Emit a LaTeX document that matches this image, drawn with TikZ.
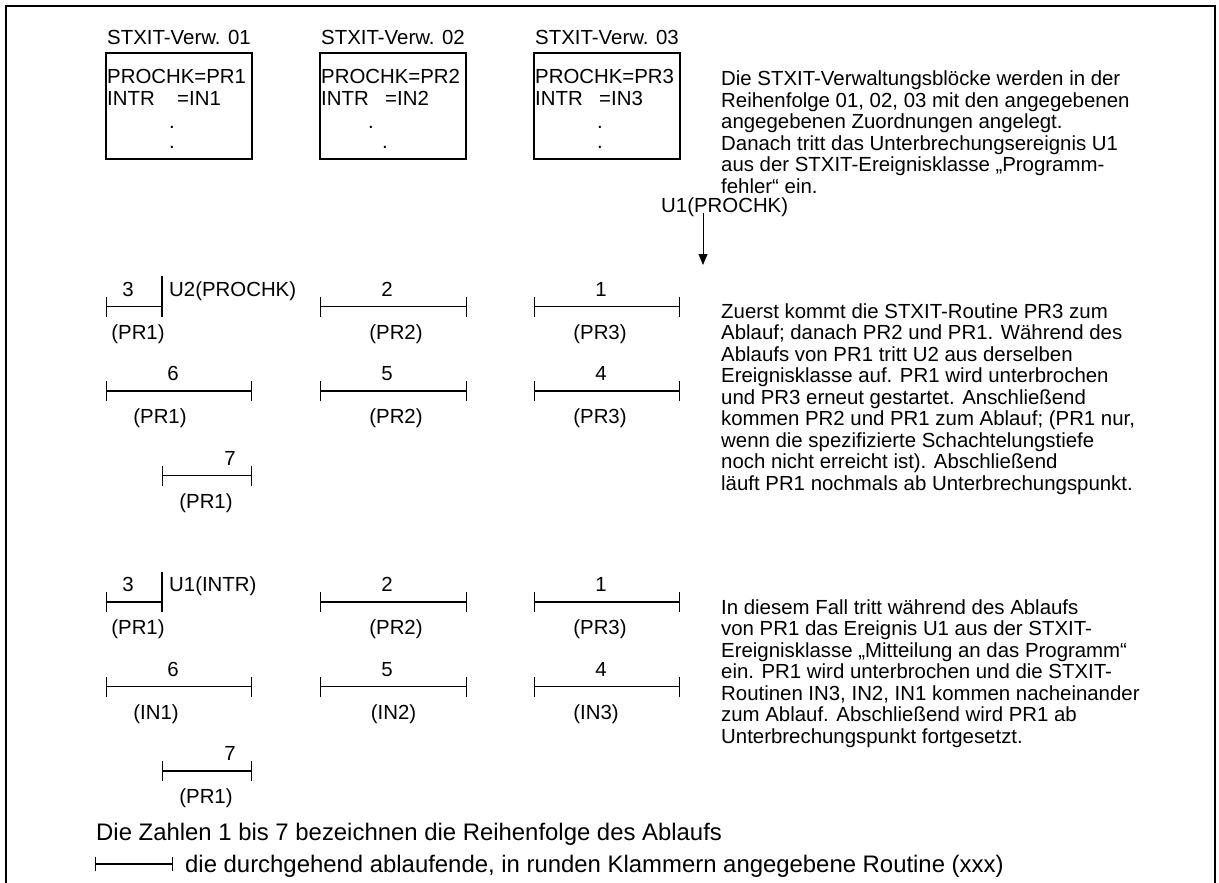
\documentclass[tikz,border=0pt]{standalone}
\usepackage{fontspec}
\setmainfont{Liberation Sans}
\usetikzlibrary{arrows.meta}
\begin{document}
\begin{tikzpicture}[x=1pt,y=-1pt,
  txt/.style={inner sep=0pt, font=\fontsize{20.4}{21.5}\selectfont},
  big/.style={inner sep=0pt, anchor=base west, font=\fontsize{23.9}{26}\selectfont},
  lb/.style={txt, anchor=base},
  lbw/.style={txt, anchor=base west},
  para/.style={txt, anchor=north west, align=left},
  vbox/.style={draw, line width=1.1pt, inner sep=0pt, minimum width=146pt, minimum height=106pt},
  run/.style={line width=1.1pt, {Bar[width=20pt]}-{Bar[width=20pt]}},
  legendrun/.style={line width=1.1pt, {Bar[width=14pt]}-{Bar[width=14pt]}},
  intmark/.style={line width=1.1pt},
  frameline/.style={line width=1.5pt},
  evarrow/.style={line width=1pt, -{Triangle[width=9pt,length=11pt]}}
]
\useasboundingbox (0,0) rectangle (1219,883);
% frame
\coordinate (f1) at (6,883); \coordinate (f2) at (6,6);
\coordinate (f3) at (1215,6); \coordinate (f4) at (1215,883);
\draw[frameline] (f1) -- (f2) -- (f3) -- (f4);

% titles and boxes
\node[lb] (t1) at (179,45) {STXIT-Verw. 01};
\node[lb] (t2) at (393,45) {STXIT-Verw. 02};
\node[lb] (t3) at (607,45) {STXIT-Verw. 03};
\node[vbox] (b1) at (179,106) {};
\node[vbox] (b2) at (393,106) {};
\node[vbox] (b3) at (607,106) {};
\node[lbw] (b1a) at (107,84) {PROCHK=PR1};
\node[lbw] (b1b) at (107,106) {INTR};
\node[lbw] (b1c) at (177,106) {=IN1};
\node[lb] (b1d) at (172,128.5) {.};
\node[lb] (b1e) at (172,148.5) {.};
\node[lbw] (b2a) at (321,84) {PROCHK=PR2};
\node[lbw] (b2b) at (321,106) {INTR};
\node[lbw] (b2c) at (385,106) {=IN2};
\node[lb] (b2d) at (371,128.5) {.};
\node[lb] (b2e) at (385,148.5) {.};
\node[lbw] (b3a) at (535,84) {PROCHK=PR3};
\node[lbw] (b3b) at (535,106) {INTR};
\node[lbw] (b3c) at (599,106) {=IN3};
\node[lb] (b3d) at (600,128.5) {.};
\node[lb] (b3e) at (600,148.5) {.};

% paragraph 1
\node[para] (p1) at (721,71) {Die STXIT-Verwaltungsblöcke werden in der\\
Reihenfolge 01, 02, 03 mit den angegebenen\\
angegebenen Zuordnungen angelegt.\\
Danach tritt das Unterbrechungsereignis U1\\
aus der STXIT-Ereignisklasse „Programm-\\
fehler“ ein.};

% event U1
\node[lbw] (u1) at (661,212) {U1(PROCHK)};
\coordinate (a1s) at (703,213);
\coordinate (a1e) at (703,265);
\draw[evarrow] (a1s) -- (a1e);

% ---------- section 1
% row 1
\coordinate (s1r1a) at (106,306.7); \coordinate (s1r1b) at (162,306.7);
\draw[run] (s1r1a) -- (s1r1b);
\coordinate (s1it) at (162,276); \coordinate (s1ib) at (162,316.7);
\draw[intmark] (s1it) -- (s1ib);
\node[lb] (s1n3) at (128,296) {3};
\node[lbw] (s1u2) at (169,296) {U2(PROCHK)};
\node[lb] (s1p3) at (138,339) {(PR1)};
\coordinate (s1r2a) at (320,306.7); \coordinate (s1r2b) at (467,306.7);
\draw[run] (s1r2a) -- (s1r2b);
\node[lb] (s1n2) at (387,296) {2};
\node[lb] (s1p2) at (396,339) {(PR2)};
\coordinate (s1r3a) at (534,306.7); \coordinate (s1r3b) at (680,306.7);
\draw[run] (s1r3a) -- (s1r3b);
\node[lb] (s1n1) at (601,296) {1};
\node[lb] (s1p1) at (600,339) {(PR3)};
% row 2
\coordinate (s1r4a) at (106,391); \coordinate (s1r4b) at (252,391);
\draw[run] (s1r4a) -- (s1r4b);
\node[lb] (s1n6) at (173,380.5) {6};
\node[lb] (s1p6) at (160,423.5) {(PR1)};
\coordinate (s1r5a) at (320,391); \coordinate (s1r5b) at (467,391);
\draw[run] (s1r5a) -- (s1r5b);
\node[lb] (s1n5) at (387,380.5) {5};
\node[lb] (s1p5) at (396,423.5) {(PR2)};
\coordinate (s1r6a) at (534,391); \coordinate (s1r6b) at (680,391);
\draw[run] (s1r6a) -- (s1r6b);
\node[lb] (s1n4) at (601,380.5) {4};
\node[lb] (s1p4) at (600,423.5) {(PR3)};
% row 3
\coordinate (s1r7a) at (162,475.7); \coordinate (s1r7b) at (252,475.7);
\draw[run] (s1r7a) -- (s1r7b);
\node[lb] (s1n7) at (230,465) {7};
\node[lb] (s1p7) at (206,508) {(PR1)};

% paragraph 2
\node[para] (p2) at (721,303.4) {Zuerst kommt die STXIT-Routine PR3 zum\\
Ablauf; danach PR2 und PR1. Während des\\
Ablaufs von PR1 tritt U2 aus derselben\\
Ereignisklasse auf. PR1 wird unterbrochen\\
und PR3 erneut gestartet. Anschließend\\
kommen PR2 und PR1 zum Ablauf; (PR1 nur,\\
wenn die spezifizierte Schachtelungstiefe\\
noch nicht erreicht ist). Abschließend\\
läuft PR1 nochmals ab Unterbrechungspunkt.};

% ---------- section 2
\coordinate (s2r1a) at (106,602); \coordinate (s2r1b) at (162,602);
\draw[run] (s2r1a) -- (s2r1b);
\coordinate (s2it) at (162,572); \coordinate (s2ib) at (162,612);
\draw[intmark] (s2it) -- (s2ib);
\node[lb] (s2n3) at (128,591.5) {3};
\node[lbw] (s2u1) at (169,591.5) {U1(INTR)};
\node[lb] (s2p3) at (138,634.5) {(PR1)};
\coordinate (s2r2a) at (320,602); \coordinate (s2r2b) at (467,602);
\draw[run] (s2r2a) -- (s2r2b);
\node[lb] (s2n2) at (387,591.5) {2};
\node[lb] (s2p2) at (396,634.5) {(PR2)};
\coordinate (s2r3a) at (534,602); \coordinate (s2r3b) at (680,602);
\draw[run] (s2r3a) -- (s2r3b);
\node[lb] (s2n1) at (601,591.5) {1};
\node[lb] (s2p1) at (600,634.5) {(PR3)};
% row 2
\coordinate (s2r4a) at (106,686.7); \coordinate (s2r4b) at (252,686.7);
\draw[run] (s2r4a) -- (s2r4b);
\node[lb] (s2n6) at (173,676) {6};
\node[lb] (s2p6) at (156,719) {(IN1)};
\coordinate (s2r5a) at (320,686.7); \coordinate (s2r5b) at (467,686.7);
\draw[run] (s2r5a) -- (s2r5b);
\node[lb] (s2n5) at (387,676) {5};
\node[lb] (s2p5) at (393.5,719) {(IN2)};
\coordinate (s2r6a) at (534,686.7); \coordinate (s2r6b) at (680,686.7);
\draw[run] (s2r6a) -- (s2r6b);
\node[lb] (s2n4) at (601,676) {4};
\node[lb] (s2p4) at (596,719) {(IN3)};
% row 3
\coordinate (s2r7a) at (162,771); \coordinate (s2r7b) at (252,771);
\draw[run] (s2r7a) -- (s2r7b);
\node[lb] (s2n7) at (230,760.5) {7};
\node[lb] (s2p7) at (206,803.5) {(PR1)};

% paragraph 3
\node[para] (p3) at (721,599.4) {In diesem Fall tritt während des Ablaufs\\
von PR1 das Ereignis U1 aus der STXIT-\\
Ereignisklasse „Mitteilung an das Programm“\\
ein. PR1 wird unterbrochen und die STXIT-\\
Routinen IN3, IN2, IN1 kommen nacheinander\\
zum Ablauf. Abschließend wird PR1 ab\\
Unterbrechungspunkt fortgesetzt.};

% legend
\node[big] (lg1) at (96,840.5) {Die Zahlen 1 bis 7 bezeichnen die Reihenfolge des Ablaufs};
\coordinate (lga) at (95,864); \coordinate (lgb) at (173,864);
\draw[legendrun] (lga) -- (lgb);
\node[big] (lg2) at (185,872) {die durchgehend ablaufende, in runden Klammern angegebene Routine (xxx)};
\end{tikzpicture}
\end{document}
